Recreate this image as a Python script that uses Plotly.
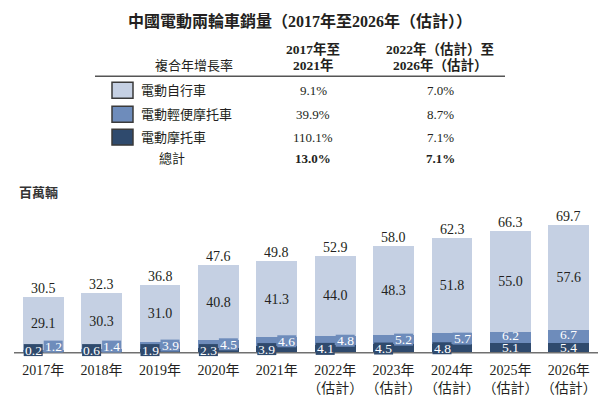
import plotly.graph_objects as go

# ---------------- data ----------------
CATEGORIES = ["2017年", "2018年", "2019年", "2020年", "2021年",
              "2022年<br>（估計）", "2023年<br>（估計）", "2024年<br>（估計）",
              "2025年<br>（估計）", "2026年<br>（估計）"]
E_MOTORCYCLE = [0.2, 0.6, 1.9, 2.3, 3.9, 4.1, 4.5, 4.8, 5.1, 5.4]
E_MOPED = [1.2, 1.4, 3.9, 4.5, 4.6, 4.8, 5.2, 5.7, 6.2, 6.7]
E_BICYCLE = [29.1, 30.3, 31.0, 40.8, 41.3, 44.0, 48.3, 51.8, 55.0, 57.6]
TOTALS = [30.5, 32.3, 36.8, 47.6, 49.8, 52.9, 58.0, 62.3, 66.3, 69.7]

SERIES_NAMES = ["電動自行車", "電動輕便摩托車", "電動摩托車"]
CAGR_17_21 = ["9.1%", "39.9%", "110.1%"]
CAGR_22_26 = ["7.0%", "8.7%", "7.1%"]
TOTAL_CAGR = ["13.0%", "7.1%"]

TITLE = "中國電動兩輪車銷量（2017年至2026年（估計））"
UNIT = "百萬輛"

# ---------------- style ----------------
W, H = 609, 397
LIGHT, MID, DARK = "#C5D0E3", "#6E8CBB", "#2F4A6D"
TXT = "#231F20"
FONT = "Liberation Serif, Noto Sans CJK TC, serif"

ML, MR = 14, 11
BASE_PX = 353.0          # pixel row of value 0
SCALE = 1.84             # px per unit
PLOT_TOP = 200.0
Y_MIN = -4.0
PLOT_BOTTOM = BASE_PX - Y_MIN * SCALE
MT = PLOT_TOP
MB = H - PLOT_BOTTOM
Y_MAX = (BASE_PX - PLOT_TOP) / SCALE
PW = W - ML - MR
PH = PLOT_BOTTOM - PLOT_TOP

COL1_X, COL2_X = 313, 440


def px(x):
    return (x - ML) / PW


def py(y):
    return (PLOT_BOTTOM - y) / PH


fig = go.Figure()
fig.add_trace(go.Bar(x=CATEGORIES, y=E_MOTORCYCLE, marker_color=DARK, marker_line_width=0,
                     name=SERIES_NAMES[2], hoverinfo="skip"))
fig.add_trace(go.Bar(x=CATEGORIES, y=E_MOPED, marker_color=MID, marker_line_width=0,
                     name=SERIES_NAMES[1], hoverinfo="skip"))
fig.add_trace(go.Bar(x=CATEGORIES, y=E_BICYCLE, marker_color=LIGHT, marker_line_width=0,
                     name=SERIES_NAMES[0], text=[f"{v:.1f}" for v in E_BICYCLE],
                     textposition="inside", insidetextanchor="middle", textangle=0,
                     textfont=dict(family=FONT, size=14, color=TXT), hoverinfo="skip"))

shapes = []
annotations = []

# baseline
shapes.append(dict(type="line", xref="paper", yref="y", x0=0, x1=1, y0=0, y1=0,
                   line=dict(color="#707070", width=1.5), layer="above"))

for i, cat in enumerate(CATEGORIES):
    d, m, t = E_MOTORCYCLE[i], E_MOPED[i], TOTALS[i]
    # totals
    annotations.append(dict(x=i, y=t, xref="x", yref="y", text=f"{t:.1f}", showarrow=False,
                            yanchor="bottom", yshift=-1,
                            font=dict(family=FONT, size=14, color=TXT)))
    centered = m * SCALE >= 11
    dark_y = max(d / 2, 1.4)
    mid_y = max(d + m / 2 + (1.2 if centered else 0), 3.3)
    off = 0 if centered else 10
    for val, yv, col, sh in ((d, dark_y, DARK, -off), (m, mid_y, MID, off)):
        if not centered:
            shapes.append(dict(type="rect", xref="x", yref="y", xsizemode="pixel", ysizemode="pixel",
                               xanchor=i, yanchor=yv, x0=sh - 9.5, x1=sh + 9.5, y0=-6, y1=6,
                               fillcolor=col, line_width=0, layer="above"))
        annotations.append(dict(x=i, y=yv, xref="x", yref="y", text=f"{val:.1f}", showarrow=False,
                                xshift=sh, yanchor="middle", xanchor="center",
                                font=dict(family=FONT, size=13.5, color="white")))

# ---------------- top table ----------------
def txt(x, y, s, size=13, bold=False, xanchor="center"):
    if bold:
        s = f"<b>{s}</b>"
    annotations.append(dict(x=px(x), y=py(y), xref="paper", yref="paper", text=s, showarrow=False,
                            xanchor=xanchor, yanchor="middle",
                            font=dict(family=FONT, size=size, color=TXT)))

txt(300, 21, TITLE, size=16, bold=True)
txt(194, 65, "複合年增長率")
txt(COL1_X, 49, "2017年至", size=13.5, bold=True)
txt(COL1_X, 65, "2021年", size=13.5, bold=True)
txt(COL2_X, 49, "2022年（估計）至", size=13.5, bold=True)
txt(COL2_X, 65, "2026年（估計）", size=13.5, bold=True)
shapes.append(dict(type="line", xref="paper", yref="paper", x0=px(95), x1=px(505),
                   y0=py(76), y1=py(76), line=dict(color="#555555", width=1.5)))

row_y = [90, 114, 137]
swatch_cols = [LIGHT, MID, DARK]
for r in range(3):
    shapes.append(dict(type="rect", xref="paper", yref="paper",
                       x0=px(112), x1=px(133), y0=py(row_y[r] + 8), y1=py(row_y[r] - 8),
                       fillcolor=swatch_cols[r], line=dict(color="#3a3a3a", width=1.5)))
    txt(139, row_y[r], SERIES_NAMES[r], xanchor="left")
    txt(COL1_X, row_y[r], CAGR_17_21[r])
    txt(COL2_X, row_y[r], CAGR_22_26[r])
txt(172, 158, "總計")
txt(COL1_X, 158, TOTAL_CAGR[0], bold=True)
txt(COL2_X, 158, TOTAL_CAGR[1], bold=True)

annotations.append(dict(x=px(17), y=py(191), xref="paper", yref="paper", text=f"<b>{UNIT}</b>",
                        showarrow=False, xanchor="left", yanchor="middle",
                        font=dict(family="Noto Sans CJK TC, sans-serif", size=13, color="#333333")))

fig.update_layout(
    width=W, height=H, barmode="stack", bargap=0.3,
    margin=dict(l=ML, r=MR, t=MT, b=MB, autoexpand=False),
    paper_bgcolor="white", plot_bgcolor="white", showlegend=False,
    shapes=shapes, annotations=annotations,
    xaxis=dict(type="category", range=[-0.5, 9.5], showgrid=False, showline=False, zeroline=False,
               ticks="", tickfont=dict(family=FONT, size=14, color=TXT), fixedrange=True),
    yaxis=dict(range=[Y_MIN, Y_MAX], visible=False, showgrid=False, zeroline=False, fixedrange=True),
)

fig.write_html("out.html", config=dict(displayModeBar=False),
               post_script="document.body.style.margin='0px';document.body.style.overflow='hidden';")
